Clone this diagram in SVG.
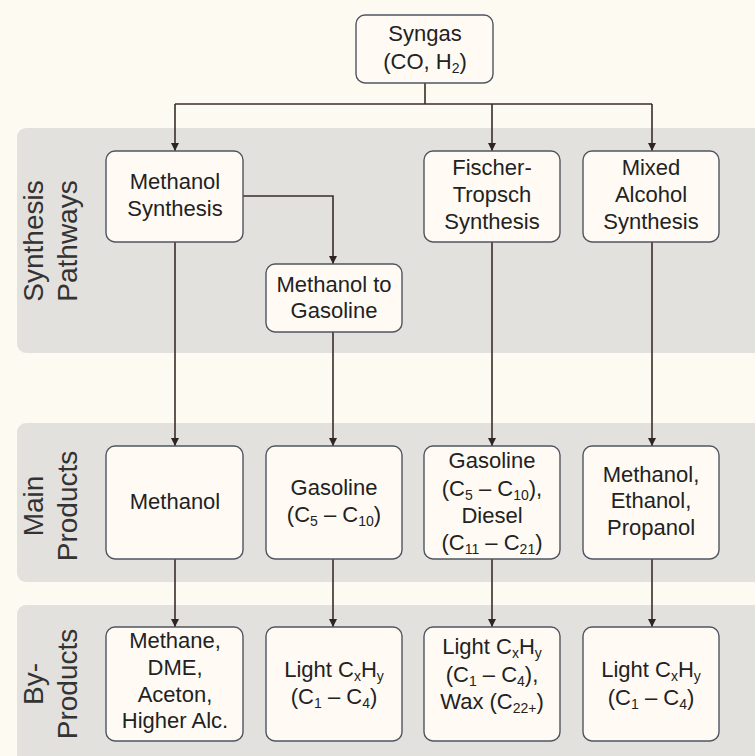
<svg xmlns="http://www.w3.org/2000/svg" width="755" height="756" viewBox="0 0 755 756">
  <defs>
    <marker id="arrow" viewBox="0 0 10 10" refX="10" refY="5" markerWidth="8" markerHeight="8" markerUnits="userSpaceOnUse" orient="auto">
      <path d="M0,0 L10,5 L0,10 z" fill="#2e2424"/>
    </marker>
    <style>
      .band { fill: #e3e1dd; }
      .band-label { font-family: "Liberation Sans", Arial, sans-serif; font-size: 28px; fill: #333; text-anchor: middle; }
      .box { fill: #fffbf4; stroke: #4f5560; stroke-width: 1.4; }
      .lbl { font-family: "Liberation Sans", Arial, sans-serif; font-size: 22px; fill: #222; text-anchor: middle; }
      .sub { font-size: 14px; }
      .wire { fill: none; stroke: #3a2c2c; stroke-width: 1.6; }
    </style>
  </defs>

  <rect width="755" height="756" fill="#fdfaf1"/>

  <!-- horizontal stage bands -->
  <g id="bands">
    <rect class="band" x="17" y="128" width="760" height="225" rx="9"/>
    <rect class="band" x="17" y="423" width="760" height="159" rx="9"/>
    <rect class="band" x="17" y="605" width="760" height="160" rx="9"/>
    <text class="band-label" transform="translate(43,241) rotate(-90)">Synthesis</text>
    <text class="band-label" transform="translate(77,241) rotate(-90)">Pathways</text>
    <text class="band-label" transform="translate(43,506) rotate(-90)">Main</text>
    <text class="band-label" transform="translate(77,506) rotate(-90)">Products</text>
    <text class="band-label" transform="translate(43,684) rotate(-90)">By-</text>
    <text class="band-label" transform="translate(77,684) rotate(-90)">Products</text>
  </g>

  <!-- connectors -->
  <g id="connectors">
    <path class="wire" d="M425,83 V104"/>
    <path class="wire" d="M175,104 H652"/>
    <path class="wire" d="M175,104 V151" marker-end="url(#arrow)"/>
    <path class="wire" d="M492,104 V151" marker-end="url(#arrow)"/>
    <path class="wire" d="M652,104 V151" marker-end="url(#arrow)"/>
    <path class="wire" d="M243,196 H333 V264" marker-end="url(#arrow)"/>
    <path class="wire" d="M175,242 V446" marker-end="url(#arrow)"/>
    <path class="wire" d="M333,332 V446" marker-end="url(#arrow)"/>
    <path class="wire" d="M492,242 V446" marker-end="url(#arrow)"/>
    <path class="wire" d="M652,242 V446" marker-end="url(#arrow)"/>
    <path class="wire" d="M175,559 V627" marker-end="url(#arrow)"/>
    <path class="wire" d="M333,559 V627" marker-end="url(#arrow)"/>
    <path class="wire" d="M492,559 V627" marker-end="url(#arrow)"/>
    <path class="wire" d="M652,559 V627" marker-end="url(#arrow)"/>
  </g>

  <g id="syngas">
    <rect class="box" x="356" y="15" width="137" height="68" rx="9"/>
    <text class="lbl" x="425" y="41">Syngas</text>
    <text class="lbl" x="425" y="69">(CO, H<tspan class="sub" dy="4">2</tspan><tspan dy="-4">)</tspan></text>
  </g>

  <g id="methanol-synthesis">
    <rect class="box" x="106" y="151" width="137" height="91" rx="9"/>
    <text class="lbl" x="175" y="189">Methanol</text>
    <text class="lbl" x="175" y="216">Synthesis</text>
  </g>

  <g id="methanol-to-gasoline">
    <rect class="box" x="266" y="264" width="136" height="68" rx="9"/>
    <text class="lbl" x="334" y="292">Methanol to</text>
    <text class="lbl" x="334" y="318">Gasoline</text>
  </g>

  <g id="fischer-tropsch">
    <rect class="box" x="424" y="151" width="136" height="91" rx="9"/>
    <text class="lbl" x="492" y="175">Fischer-</text>
    <text class="lbl" x="492" y="202">Tropsch</text>
    <text class="lbl" x="492" y="229">Synthesis</text>
  </g>

  <g id="mixed-alcohol">
    <rect class="box" x="583" y="151" width="136" height="91" rx="9"/>
    <text class="lbl" x="651" y="175">Mixed</text>
    <text class="lbl" x="651" y="202">Alcohol</text>
    <text class="lbl" x="651" y="229">Synthesis</text>
  </g>

  <g id="main-methanol">
    <rect class="box" x="106" y="446" width="137" height="113" rx="9"/>
    <text class="lbl" x="175" y="509">Methanol</text>
  </g>

  <g id="main-gasoline">
    <rect class="box" x="266" y="446" width="136" height="113" rx="9"/>
    <text class="lbl" x="334" y="495">Gasoline</text>
    <text class="lbl" x="334" y="522">(C<tspan class="sub" dy="4">5</tspan><tspan dy="-4"> – C</tspan><tspan class="sub" dy="4">10</tspan><tspan dy="-4">)</tspan></text>
  </g>

  <g id="main-ft">
    <rect class="box" x="424" y="446" width="136" height="113" rx="9"/>
    <text class="lbl" x="492" y="468">Gasoline</text>
    <text class="lbl" x="492" y="496">(C<tspan class="sub" dy="4">5</tspan><tspan dy="-4"> – C</tspan><tspan class="sub" dy="4">10</tspan><tspan dy="-4">),</tspan></text>
    <text class="lbl" x="492" y="523">Diesel</text>
    <text class="lbl" x="492" y="550">(C<tspan class="sub" dy="4">11</tspan><tspan dy="-4"> – C</tspan><tspan class="sub" dy="4">21</tspan><tspan dy="-4">)</tspan></text>
  </g>

  <g id="main-alcohols">
    <rect class="box" x="583" y="446" width="136" height="113" rx="9"/>
    <text class="lbl" x="651" y="482">Methanol,</text>
    <text class="lbl" x="651" y="508">Ethanol,</text>
    <text class="lbl" x="651" y="535">Propanol</text>
  </g>

  <g id="by-methanol">
    <rect class="box" x="106" y="627" width="137" height="114" rx="9"/>
    <text class="lbl" x="175" y="648">Methane,</text>
    <text class="lbl" x="175" y="675">DME,</text>
    <text class="lbl" x="175" y="702">Aceton,</text>
    <text class="lbl" x="175" y="728">Higher Alc.</text>
  </g>

  <g id="by-gasoline">
    <rect class="box" x="266" y="627" width="136" height="114" rx="9"/>
    <text class="lbl" x="334" y="677">Light C<tspan class="sub" dy="4">x</tspan><tspan dy="-4">H</tspan><tspan class="sub" dy="4">y</tspan></text>
    <text class="lbl" x="334" y="704">(C<tspan class="sub" dy="4">1</tspan><tspan dy="-4"> – C</tspan><tspan class="sub" dy="4">4</tspan><tspan dy="-4">)</tspan></text>
  </g>

  <g id="by-ft">
    <rect class="box" x="424" y="627" width="136" height="114" rx="9"/>
    <text class="lbl" x="492" y="654">Light C<tspan class="sub" dy="4">x</tspan><tspan dy="-4">H</tspan><tspan class="sub" dy="4">y</tspan></text>
    <text class="lbl" x="492" y="682">(C<tspan class="sub" dy="4">1</tspan><tspan dy="-4"> – C</tspan><tspan class="sub" dy="4">4</tspan><tspan dy="-4">),</tspan></text>
    <text class="lbl" x="492" y="709">Wax (C<tspan class="sub" dy="4">22+</tspan><tspan dy="-4">)</tspan></text>
  </g>

  <g id="by-alcohols">
    <rect class="box" x="583" y="627" width="136" height="114" rx="9"/>
    <text class="lbl" x="651" y="677">Light C<tspan class="sub" dy="4">x</tspan><tspan dy="-4">H</tspan><tspan class="sub" dy="4">y</tspan></text>
    <text class="lbl" x="651" y="705">(C<tspan class="sub" dy="4">1</tspan><tspan dy="-4"> – C</tspan><tspan class="sub" dy="4">4</tspan><tspan dy="-4">)</tspan></text>
  </g>
</svg>
